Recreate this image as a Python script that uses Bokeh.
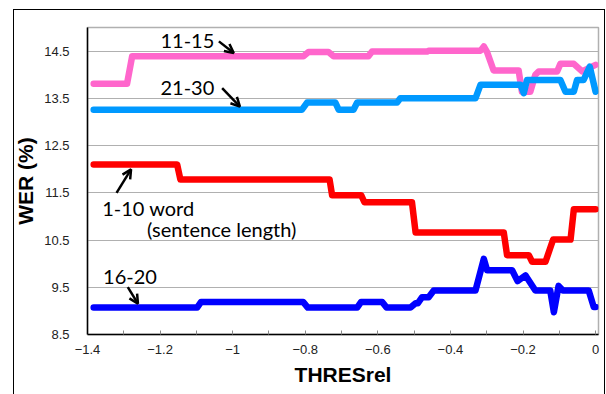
from bokeh.plotting import figure
from bokeh.models import Range1d, FixedTicker, Arrow, OpenHead, ColumnDataSource, InlineStyleSheet
from bokeh.core.properties import value
from bokeh.embed import file_html
from bokeh.resources import INLINE

# ---- data ----
pink_x = [-1.383, -1.291, -1.277, -0.805, -0.791, -0.736, -0.722, -0.626, -0.616, -0.464, -0.460,
          -0.317, -0.308, -0.299, -0.281, -0.212, -0.203, -0.180, -0.166, -0.157, -0.106, -0.097,
          -0.060, -0.037, 0.0]
pink_y = [13.81, 13.81, 14.39, 14.39, 14.48, 14.48, 14.39, 14.39, 14.49, 14.49, 14.51,
          14.51, 14.60, 14.48, 14.09, 14.09, 13.64, 13.64, 14.00, 14.07, 14.07, 14.23,
          14.23, 14.07, 14.21]

lblue_x = [-1.383, -0.809, -0.795, -0.717, -0.708, -0.667, -0.657, -0.547, -0.538, -0.331, -0.317,
           -0.207, -0.198, -0.189, -0.097, -0.083, -0.060, -0.051, -0.033, -0.016, 0.0]
lblue_y = [13.26, 13.26, 13.41, 13.41, 13.26, 13.26, 13.41, 13.41, 13.50, 13.50, 13.79,
           13.79, 13.61, 13.89, 13.89, 13.64, 13.64, 13.89, 13.89, 14.17, 13.64]

red_x = [-1.383, -1.153, -1.144, -0.733, -0.726, -0.646, -0.637, -0.506, -0.496, -0.253, -0.244,
         -0.184, -0.175, -0.138, -0.117, -0.069, -0.060, 0.0]
red_y = [12.10, 12.10, 11.78, 11.78, 11.45, 11.45, 11.30, 11.30, 10.66, 10.66, 10.18,
         10.18, 10.04, 10.04, 10.51, 10.51, 11.15, 11.15]

blue_x = [-1.383, -1.098, -1.087, -0.806, -0.793, -0.657, -0.646, -0.588, -0.576, -0.510, -0.496,
          -0.490, -0.478, -0.460, -0.446, -0.331, -0.308, -0.299, -0.230, -0.215, -0.193, -0.166,
          -0.125, -0.115, -0.102, -0.090, -0.019, -0.005, 0.0]
blue_y = [9.07, 9.07, 9.19, 9.19, 9.07, 9.07, 9.19, 9.19, 9.07, 9.07, 9.16,
          9.16, 9.29, 9.29, 9.43, 9.43, 10.10, 9.86, 9.86, 9.63, 9.75, 9.43,
          9.43, 8.97, 9.53, 9.43, 9.43, 9.08, 9.08]

x_ticks = [-1.4, -1.2, -1.0, -0.8, -0.6, -0.4, -0.2, 0.0]
x_tick_labels = ["\u22121.4", "\u22121.2", "\u22121", "\u22120.8", "\u22120.6", "\u22120.4", "\u22120.2", "0"]
x_minor = [-1.3, -1.1, -0.9, -0.7, -0.5, -0.3, -0.1]
y_ticks = [8.5, 9.5, 10.5, 11.5, 12.5, 13.5, 14.5]

# annotation labels: (text, x, y)
labels = [("11-15", -1.199, 14.706),
          ("21-30", -1.199, 13.717),
          ("1-10 word", -1.3595, 11.169),
          ("(sentence length)", -1.2358, 10.744),
          ("16-20", -1.357, 9.717)]
arrows = [(-1.038, 14.706, -0.997, 14.46),
          (-1.029, 13.717, -0.980, 13.326),
          (-1.320, 11.50, -1.280, 11.997),
          (-1.289, 9.504, -1.261, 9.152)]

p = figure(width=606, height=394, frame_width=511, frame_height=307,
           min_border_left=87, min_border_right=8, min_border_top=27, min_border_bottom=60,
           x_range=Range1d(-1.4, 0.008), y_range=Range1d(8.5, 15.0),
           output_backend="svg", toolbar_location=None)

# outer black chart border (partly beyond the bottom of the window)
p.stylesheets = [InlineStyleSheet(css=(
    ":host::after { content: ''; position: absolute; left: 13px; top: 9px; "
    "width: 590px; height: 420px; border: 1.5px solid black; pointer-events: none; }"
))]

p.outline_line_color = "#b0b0b0"
p.outline_line_width = 1.5
p.xgrid.grid_line_color = None
p.ygrid.ticker = FixedTicker(ticks=y_ticks)
p.ygrid.grid_line_color = "#b0b0b0"
p.ygrid.grid_line_width = 1.2

p.xaxis.ticker = FixedTicker(ticks=x_ticks, minor_ticks=x_minor)
p.xaxis.major_label_overrides = {t: l for t, l in zip(x_ticks, x_tick_labels)}
p.yaxis.ticker = FixedTicker(ticks=y_ticks)
p.yaxis.major_label_overrides = {t: f"{t:.1f}" for t in y_ticks}

for ax in (p.xaxis[0], p.yaxis[0]):
    ax.axis_line_color = "black"
    ax.axis_line_width = 1.5
    ax.major_label_text_font = "Liberation Sans"
    ax.major_label_text_font_size = "13px"
    ax.major_label_text_color = "#222222"
    ax.axis_label_text_font = "Liberation Sans"
    ax.axis_label_text_font_style = "bold"
    ax.axis_label_text_font_size = "21px"
    ax.axis_label_text_color = "black"

p.xaxis.major_tick_in = 4
p.xaxis.major_tick_out = 0
p.xaxis.minor_tick_in = 4
p.xaxis.minor_tick_out = 0
p.xaxis.major_tick_line_color = "#888888"
p.xaxis.minor_tick_line_color = "#888888"
p.xaxis.major_label_standoff = 10
p.xaxis.axis_label = "THRESrel"
p.xaxis.axis_label_standoff = 6

p.yaxis.major_tick_line_color = None
p.yaxis.minor_tick_line_color = None
p.yaxis.major_label_standoff = 12
p.yaxis.axis_label = "WER (%)"
p.yaxis.axis_label_standoff = 4

series = [(pink_x, pink_y, "#ff66cc"),
          (lblue_x, lblue_y, "#0099ff"),
          (red_x, red_y, "#ff0000"),
          (blue_x, blue_y, "#0000ff")]
for xs, ys, c in series:
    p.line(xs, ys, line_color=c, line_width=6.5, line_join="round", line_cap="round")

src = ColumnDataSource(dict(x=[l[1] for l in labels], y=[l[2] for l in labels],
                            t=[l[0] for l in labels]))
p.text("x", "y", text="t", source=src, text_font=value("Lato"), text_font_size="20px",
       text_color="black", text_baseline="middle", text_align="left")

for x0, y0, x1, y1 in arrows:
    p.add_layout(Arrow(x_start=x0, y_start=y0, x_end=x1, y_end=y1,
                       line_color="black", line_width=2.5,
                       end=OpenHead(size=9, line_width=2.5, line_color="black")))

open("out.html", "w").write(file_html(p, INLINE))
